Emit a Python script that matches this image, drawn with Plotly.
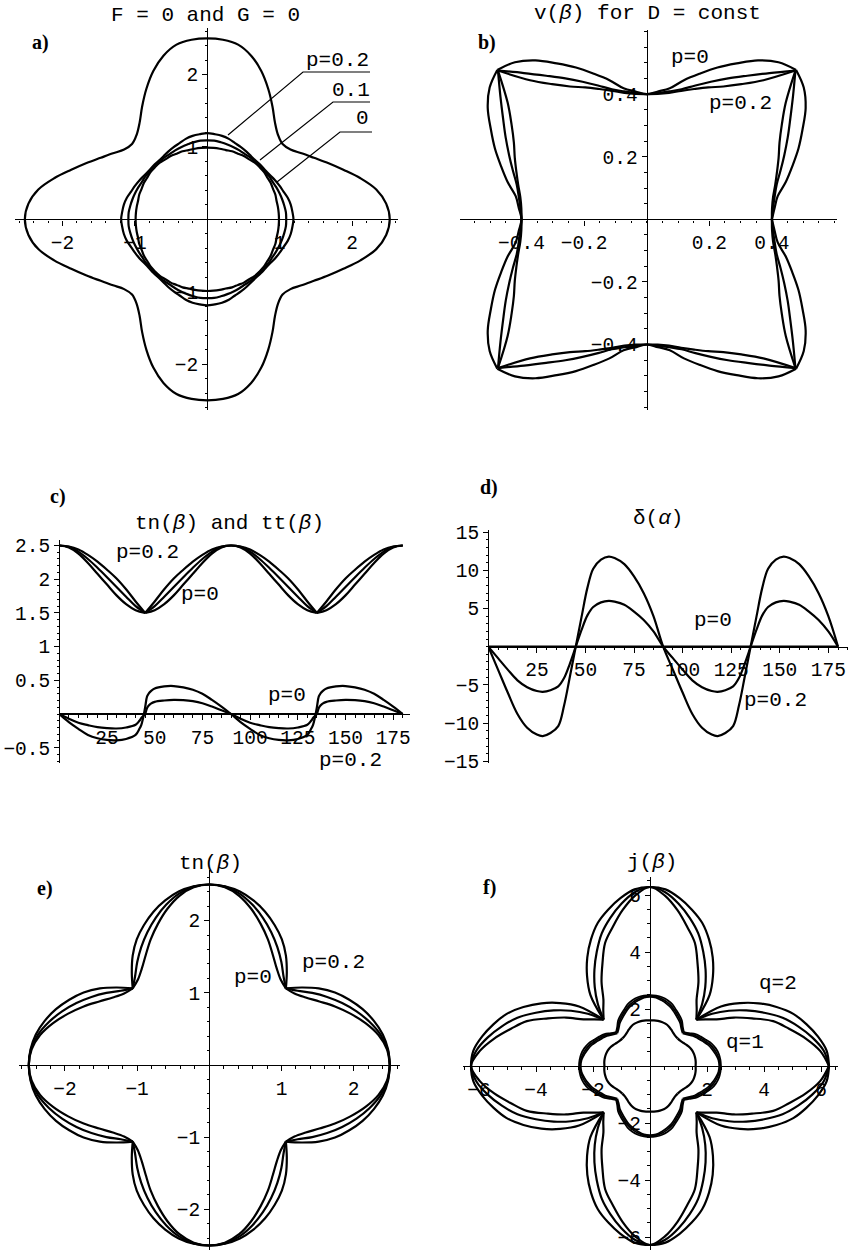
import math
import plotly.graph_objects as go

W, H = 850, 1254

# ---------------- a) F = 0 and G = 0 ----------------
# outer curve, radius read in the first quadrant (deg 0..90)
A_ANG = [0, 5, 10, 15, 20, 25, 30, 35, 40, 45, 50, 55, 60, 65, 70, 75, 80, 85, 90]
A_OUTER = [2.52, 2.48, 2.37, 2.19, 2.00, 1.84, 1.70, 1.59, 1.50, 1.47,
           1.52, 1.63, 1.80, 1.99, 2.18, 2.34, 2.45, 2.49, 2.50]
# inner curves for p = 0, 0.1, 0.2 (deg 0..45)
OCT = [0, 5, 10, 15, 20, 25, 30, 35, 40, 45]
A_P0 = [0.99, 0.99, 0.99, 0.99, 1.00, 1.00, 1.01, 1.01, 1.02, 1.02]
A_P01 = [1.09, 1.09, 1.08, 1.07, 1.06, 1.05, 1.04, 1.04, 1.03, 1.03]
A_P02 = [1.19, 1.18, 1.17, 1.15, 1.12, 1.10, 1.08, 1.06, 1.05, 1.05]

# ---------------- b) v(beta) for D = const ----------------
B_P0 = [0.40, 0.41, 0.425, 0.46, 0.495, 0.535, 0.575, 0.62, 0.655, 0.675]
B_P01 = [0.40, 0.405, 0.415, 0.43, 0.455, 0.485, 0.52, 0.56, 0.61, 0.672]
B_P02 = [0.40, 0.402, 0.41, 0.425, 0.443, 0.465, 0.49, 0.527, 0.58, 0.672]

# ---------------- c) tn(beta) and tt(beta) ----------------
C_ANG = [0, 5, 10, 15, 20, 25, 30, 35, 40, 45, 50, 55, 60, 65, 70, 75, 80, 85, 90,
         95, 100, 105, 110, 115, 120, 125, 130, 135, 140, 145, 150, 155, 160, 165,
         170, 175, 180]
TN_P0 = [2.5, 2.47, 2.38, 2.24, 2.08, 1.92, 1.76, 1.63, 1.54, 1.5, 1.54, 1.63, 1.76,
         1.92, 2.08, 2.24, 2.38, 2.47, 2.5, 2.47, 2.38, 2.24, 2.08, 1.92, 1.76, 1.63,
         1.54, 1.5, 1.54, 1.63, 1.76, 1.92, 2.08, 2.24, 2.38, 2.47, 2.5]
TN_P01 = [2.5, 2.48, 2.41, 2.30, 2.17, 2.03, 1.885, 1.74, 1.60, 1.5, 1.60, 1.74, 1.885,
          2.03, 2.17, 2.30, 2.41, 2.48, 2.5, 2.48, 2.41, 2.30, 2.17, 2.03, 1.885, 1.74,
          1.60, 1.5, 1.60, 1.74, 1.885, 2.03, 2.17, 2.30, 2.41, 2.48, 2.5]
TN_P02 = [2.5, 2.485, 2.44, 2.36, 2.26, 2.14, 2.01, 1.85, 1.67, 1.5, 1.67, 1.85, 2.01,
          2.14, 2.26, 2.36, 2.44, 2.485, 2.5, 2.485, 2.44, 2.36, 2.26, 2.14, 2.01, 1.85,
          1.67, 1.5, 1.67, 1.85, 2.01, 2.14, 2.26, 2.36, 2.44, 2.485, 2.5]

TT_ANG = [0, 5, 10, 15, 20, 25, 30, 35, 40, 42, 43, 44, 45, 46, 47, 48, 50, 55, 60,
          65, 70, 75, 80, 85, 90, 95, 100, 105, 110, 115, 120, 125, 130, 132, 133,
          134, 135, 136, 137, 138, 140, 145, 150, 155, 160, 165, 170, 175, 180]
TT_P0 = [0.0] * 49
TT_P01 = [0, -0.07, -0.13, -0.165, -0.195, -0.21, -0.215, -0.2, -0.16, -0.1, -0.06,
          -0.03, 0, 0.09, 0.13, 0.155, 0.18, 0.2, 0.21, 0.205, 0.19, 0.16, 0.11, 0.055,
          0, -0.07, -0.13, -0.165, -0.195, -0.21, -0.215, -0.2, -0.16, -0.1, -0.06,
          -0.03, 0, 0.09, 0.13, 0.155, 0.18, 0.2, 0.21, 0.205, 0.19, 0.16, 0.11, 0.055, 0]
TT_P02 = [0, -0.12, -0.22, -0.31, -0.36, -0.385, -0.39, -0.37, -0.31, -0.22, -0.16,
          -0.05, 0.1, 0.26, 0.31, 0.34, 0.38, 0.41, 0.415, 0.395, 0.36, 0.3, 0.21, 0.11,
          0, -0.12, -0.22, -0.31, -0.36, -0.385, -0.39, -0.37, -0.31, -0.22, -0.16,
          -0.05, 0.1, 0.26, 0.31, 0.34, 0.38, 0.41, 0.415, 0.395, 0.36, 0.3, 0.21, 0.11, 0]

# ---------------- d) delta(alpha) ----------------
D_ANG = [0, 5, 10, 15, 20, 25, 28, 32, 36, 39, 42, 45, 48, 51, 54, 58, 62, 65, 70, 75,
         80, 85, 90, 95, 100, 105, 110, 115, 118, 122, 126, 129, 132, 135, 138, 141,
         144, 148, 152, 155, 160, 165, 170, 175, 180]
D_P0 = [0.0] * 45
D_P01 = [0, -1.5, -3.0, -4.4, -5.3, -5.8, -5.9, -5.7, -5.2, -4.1, -2.2, 0, 2.2, 4.1,
         5.2, 5.8, 6.0, 5.9, 5.5, 4.6, 3.5, 2.0, 0, -1.5, -3.0, -4.4, -5.3, -5.8, -5.9,
         -5.7, -5.2, -4.1, -2.2, 0, 2.2, 4.1, 5.2, 5.8, 6.0, 5.9, 5.5, 4.6, 3.5, 2.0, 0]
D_P02 = [0, -3.0, -6.0, -8.8, -10.6, -11.5, -11.7, -11.3, -10.4, -7.7, -3.9, 0, 3.9,
         7.7, 10.2, 11.4, 11.8, 11.6, 10.8, 9.2, 7.0, 4.0, 0, -3.0, -6.0, -8.8, -10.6,
         -11.5, -11.7, -11.3, -10.4, -7.7, -3.9, 0, 3.9, 7.7, 10.2, 11.4, 11.8, 11.6,
         10.8, 9.2, 7.0, 4.0, 0]

# ---------------- f) j(beta) (deg 0..45) ----------------
F_Q2_A = [6.28, 6.22, 5.98, 5.68, 5.35, 4.90, 4.40, 3.85, 3.25, 2.30]
F_Q2_B = [6.28, 6.12, 5.78, 5.38, 4.95, 4.42, 3.90, 3.38, 2.85, 2.30]
F_Q2_C = [6.28, 6.00, 5.55, 5.05, 4.60, 3.95, 3.40, 2.85, 2.55, 2.30]
F_Q1_A = [2.49, 2.48, 2.45, 2.39, 2.30, 2.17, 2.06, 1.95, 1.79, 1.68]
F_Q1_B = [2.46, 2.44, 2.39, 2.32, 2.23, 2.11, 2.00, 1.89, 1.75, 1.65]
F_Q1_C = [2.43, 2.41, 2.34, 2.26, 2.17, 2.05, 1.94, 1.84, 1.71, 1.62]
F_IN = [1.60, 1.61, 1.61, 1.60, 1.58, 1.54, 1.48, 1.42, 1.38, 1.37]

CUSPS = (45, 135, 225, 315)


def quadrant_to_circle(q_ang, q_r):
    """Mirror a first-quadrant curve across both axes (0..360 deg)."""
    ang = list(q_ang) + [180 - a for a in q_ang[-2::-1]]
    r = list(q_r) + list(q_r[-2::-1])
    ang = ang + [180 + a for a in ang[1:]]
    r = r + r[1:]
    return ang, r


def octant_to_circle(o_ang, o_r):
    """Mirror a 0..45 deg curve about the diagonal, then across the axes."""
    q_ang = list(o_ang) + [90 - a for a in o_ang[-2::-1]]
    q_r = list(o_r) + list(o_r[-2::-1])
    return quadrant_to_circle(q_ang, q_r)


def polar_xy(ang, r, breaks=()):
    xs, ys = [], []
    n = len(ang)
    for i, (a, rr) in enumerate(zip(ang, r)):
        x = rr * math.cos(math.radians(a))
        y = rr * math.sin(math.radians(a))
        xs.append(x)
        ys.append(y)
        if a in breaks and 0 < i < n - 1:
            xs += [None, x]
            ys += [None, y]
    return xs, ys


def split_xy(xv, yv, breaks=()):
    xs, ys = [], []
    for i, (x, y) in enumerate(zip(xv, yv)):
        xs.append(x)
        ys.append(y)
        if x in breaks and 0 < i < len(xv) - 1:
            xs += [None, x]
            ys += [None, y]
    return xs, ys


fig = go.Figure()
LINE = dict(color="black", width=2.2, shape="spline", smoothing=1)
MONO = "Liberation Mono, Courier New, monospace"


def add(xs, ys, k, width=2.2):
    fig.add_trace(go.Scatter(x=xs, y=ys, mode="lines", xaxis=f"x{k}", yaxis=f"y{k}",
                             line=dict(LINE, width=width), connectgaps=False,
                             hoverinfo="skip", showlegend=False))


# a)
add(*polar_xy(*quadrant_to_circle(A_ANG, A_OUTER)), 1)
for rr in (A_P0, A_P01, A_P02):
    add(*polar_xy(*octant_to_circle(OCT, rr)), 1)
# b)
for rr in (B_P0, B_P01, B_P02):
    add(*polar_xy(*octant_to_circle(OCT, rr), breaks=CUSPS), 2)
# c)
for tn in (TN_P0, TN_P01, TN_P02):
    add(*split_xy(C_ANG, tn, breaks=(45, 135)), 3)
for tt in (TT_P0, TT_P01, TT_P02):
    add(TT_ANG, tt, 3)
# d)
for dd in (D_P0, D_P01, D_P02):
    add(D_ANG, dd, 4)
# e) tn(beta) drawn around the full circle
E_ANG = C_ANG + [180 + a for a in C_ANG[1:]]
for tn in (TN_P0, TN_P01, TN_P02):
    add(*polar_xy(E_ANG, tn + tn[1:], breaks=CUSPS), 5)
# f)
for rr in (F_Q2_A, F_Q2_B, F_Q2_C):
    add(*polar_xy(*octant_to_circle(OCT, rr), breaks=CUSPS), 6)
for rr in (F_Q1_A, F_Q1_B, F_Q1_C):
    add(*polar_xy(*octant_to_circle(OCT, rr), breaks=CUSPS), 6, width=1.8)
add(*polar_xy(*octant_to_circle(OCT, F_IN), breaks=CUSPS), 6)

# pixel frames: (x0, x1, y0, y1, origin_x, origin_y, px per x unit, px per y unit)
FRAMES = {
    1: (15, 398, 28, 410, 207.3, 219.3, 72.4, 72.4),
    2: (460, 837, 30, 410, 646.7, 219.3, 313, 313),
    3: (59.3, 410, 540, 763, 59.3, 714, 1.908, 67.4),
    4: (488.3, 848, 530, 763.3, 488.3, 646.7, 1.943, 7.64),
    5: (19.3, 400, 870, 1250, 209.3, 1065, 72.2, 72.2),
    6: (463.3, 838.3, 877, 1250, 650, 1066, 28.5, 28.5),
}
XT = {1: [-2, -1, 1, 2], 2: [-0.4, -0.2, 0.2, 0.4], 3: [25, 50, 75, 100, 125, 150, 175],
      4: [25, 50, 75, 100, 125, 150, 175], 5: [-2, -1, 1, 2], 6: [-6, -4, -2, 2, 4, 6]}
YT = {1: [-2, -1, 1, 2], 2: [-0.4, -0.2, 0.2, 0.4], 3: [-0.5, 0.5, 1, 1.5, 2, 2.5],
      4: [-15, -10, -5, 5, 10, 15], 5: [-2, -1, 1, 2], 6: [-6, -4, -2, 2, 4, 6]}
XMIN = {1: 0.2, 2: 0.05, 3: 5, 4: 5, 5: 0.2, 6: 0.5}
YMIN = {1: 0.2, 2: 0.05, 3: 0.1, 4: 1, 5: 0.2, 6: 0.5}

TICKFONT = dict(family=MONO, size=19.5, color="black")
for k, (x0, x1, y0, y1, ox, oy, ux, uy) in FRAMES.items():
    xr = [(x0 - ox) / ux, (x1 - ox) / ux]
    yr = [(oy - y1) / uy, (oy - y0) / uy]
    common = dict(showline=True, linecolor="black", linewidth=1.4, showgrid=False,
                  zeroline=False, ticks="outside", ticklen=5, tickwidth=1.2,
                  tickcolor="black", tickfont=TICKFONT, anchor="free",
                  automargin=False, fixedrange=True, layer="below traces")
    fig.layout[f"xaxis{k}"] = dict(common, domain=[x0 / W, x1 / W], range=xr,
                                   position=1 - oy / H, tickvals=XT[k],
                                   minor=dict(ticks="outside", ticklen=2.5, tickwidth=1,
                                              tickcolor="black", dtick=XMIN[k]))
    fig.layout[f"yaxis{k}"] = dict(common, domain=[1 - y1 / H, 1 - y0 / H], range=yr,
                                   position=ox / W, tickvals=YT[k],
                                   minor=dict(ticks="outside", ticklen=2.5, tickwidth=1,
                                              tickcolor="black", dtick=YMIN[k]))


def text(px, py, s, size=21, family=MONO, bold=False):
    if bold:
        s = f"<b>{s}</b>"
    fig.add_annotation(x=px / W, y=1 - py / H, xref="paper", yref="paper", text=s,
                       showarrow=False, xanchor="center", yanchor="middle", borderpad=0,
                       font=dict(family=family, size=size, color="black"))


SERIF = "Liberation Serif, Times New Roman, serif"
# panel letters
for px, py, s in [(40, 43, "a)"), (487, 43, "b)"), (58, 497, "c)"),
                  (489, 488, "d)"), (45, 888, "e)"), (489, 887, "f)")]:
    text(px, py, s, size=20, family=SERIF, bold=True)
# titles
text(205, 15, "F = 0 and G = 0")
text(647, 14, "v(<i>β</i>) for D = const")
text(230, 523, "tn(<i>β</i>) and tt(<i>β</i>)")
text(658, 518, "δ(<i>α</i>)")
text(210, 863, "tn(<i>β</i>)")
text(652, 862, "j(<i>β</i>)")
# curve labels
for px, py, s in [(337, 60, "p=0.2"), (351, 90, "0.1"), (362, 118, "0"),
                  (690, 58, "p=0"), (740, 103, "p=0.2"),
                  (147, 552, "p=0.2"), (200, 595, "p=0"), (287, 695, "p=0"),
                  (350, 760, "p=0.2"),
                  (713, 620, "p=0"), (775, 700, "p=0.2"),
                  (333, 962, "p=0.2"), (253, 977, "p=0"),
                  (778, 983, "q=2"), (745, 1042, "q=1")]:
    text(px, py, s)

# leader lines to the p labels of panel a (pixel positions -> panel a data units)
def a_data(px, py):
    return (px - 207.3) / 72.4, (219.3 - py) / 72.4

for (sx, sy), (ex, ey), (tx, ty) in [((228, 135), (303, 72), (370, 72)),
                                      ((260, 160), (333, 102), (370, 102)),
                                      ((277, 182), (340, 132), (372, 132))]:
    pts = [a_data(sx, sy), a_data(ex, ey), a_data(tx, ty)]
    fig.add_trace(go.Scatter(x=[p[0] for p in pts], y=[p[1] for p in pts], mode="lines",
                             xaxis="x1", yaxis="y1", line=dict(color="black", width=1.2),
                             hoverinfo="skip", showlegend=False))

fig.update_layout(width=W, height=H, margin=dict(l=0, r=0, t=0, b=0),
                  paper_bgcolor="white", plot_bgcolor="white", template="none",
                  showlegend=False)
fig.write_html("out.html")
